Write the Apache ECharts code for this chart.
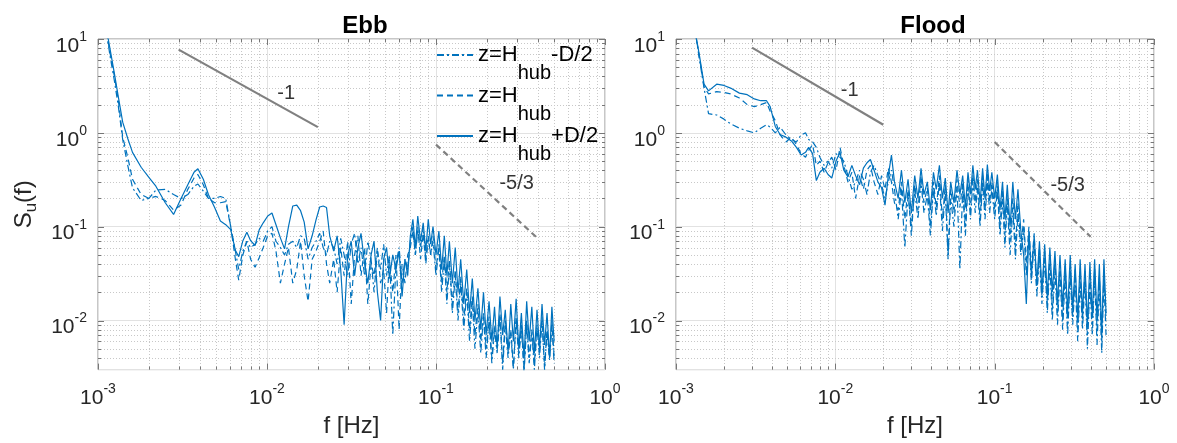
<!DOCTYPE html>
<html>
<head>
<meta charset="utf-8">
<title>Su(f) Ebb / Flood</title>
<script src="https://cdn.jsdelivr.net/npm/echarts@6/dist/echarts.min.js"></script>
<style>
html,body{margin:0;padding:0;background:#fff;}
#main{width:1177px;height:443px;}
</style>
</head>
<body>
<div id="main"></div>
<script>
// frequency [Hz], shared by both panels
var freq = [0.00112,0.00118,0.00125,0.00132,0.0014,0.0015,0.0016,0.0018,0.002,0.0022,
  0.0025,0.0028,0.0031,0.0034,0.0037,0.0039,0.0042,0.0045,0.0049,0.0053,
  0.0057,0.0061,0.0065,0.0068,0.0072,0.0076,0.008,0.0085,0.009,0.0095,
  0.0101,0.0107,0.0113,0.012,0.0127,0.0134,0.0142,0.015,0.0158,0.0166,
  0.0175,0.0185,0.0195,0.0205,0.0215,0.0225,0.0235,0.0248,0.026,0.0273,
  0.0286,0.03,0.0315,0.033,0.0345,0.036,0.0378,0.0395,0.0413,0.043,
  0.045,0.047,0.049,0.051,0.053,0.0555,0.058,0.0605,0.063,0.0655,
  0.068,0.0705,0.073,0.0755,0.078,0.081,0.084,0.087,0.09,0.093,
  0.096,0.1,0.104,0.108,0.112,0.116,0.12,0.125,0.13,0.135,
  0.14,0.146,0.152,0.158,0.164,0.17,0.177,0.184,0.191,0.198,
  0.206,0.214,0.222,0.23,0.239,0.248,0.257,0.267,0.277,0.287,
  0.298,0.309,0.32,0.332,0.344,0.356,0.369,0.382,0.396,0.41,
  0.424,0.439,0.454,0.47,0.485,0.5];

// Ebb: z=Hhub-D/2 (dash-dot), z=Hhub (dashed), z=Hhub+D/2 (solid)
var ebbLow = [12,6.5,3.6,1.9,0.85,0.45,0.26,0.19,0.2,0.245,
  0.25,0.22,0.2,0.22,0.27,0.285,0.24,0.2,0.2,0.21,
  0.2,0.1,0.055,0.035,0.055,0.07,0.06,0.065,0.075,0.07,
  0.09,0.1,0.07,0.06,0.05,0.065,0.07,0.06,0.08,0.075,
  0.045,0.06,0.07,0.085,0.06,0.05,0.07,0.06,0.04,0.075,
  0.05,0.03,0.065,0.085,0.04,0.06,0.03,0.07,0.045,0.02,
  0.055,0.035,0.065,0.03,0.05,0.007,0.04,0.06,0.025,0.045,
  0.035,0.07,0.1,0.05,0.09,0.06,0.1,0.045,0.08,0.05,
  0.07,0.03,0.06,0.02,0.045,0.015,0.04,0.012,0.03,0.01,
  0.025,0.008,0.02,0.006,0.016,0.005,0.013,0.0045,0.011,0.004,
  0.01,0.0035,0.008,0.0045,0.011,0.003,0.009,0.004,0.0075,0.003,
  0.01,0.004,0.0085,0.0028,0.009,0.0035,0.0075,0.003,0.0085,0.004,
  0.01,0.003,0.0075,0.0038,0.009,0.0035];
var ebbHub = [12,7,4,2.2,0.9,0.55,0.32,0.22,0.2,0.21,
  0.19,0.15,0.17,0.25,0.33,0.36,0.28,0.2,0.18,0.18,
  0.185,0.1,0.045,0.027,0.05,0.07,0.045,0.037,0.047,0.06,
  0.08,0.085,0.055,0.025,0.04,0.06,0.025,0.035,0.07,0.03,
  0.016,0.045,0.055,0.07,0.09,0.04,0.025,0.045,0.02,0.06,
  0.03,0.07,0.015,0.05,0.08,0.03,0.06,0.015,0.04,0.03,
  0.06,0.025,0.035,0.012,0.045,0.02,0.05,0.008,0.04,0.025,
  0.05,0.06,0.09,0.05,0.1,0.045,0.085,0.04,0.075,0.05,
  0.08,0.035,0.065,0.025,0.05,0.02,0.045,0.015,0.035,0.012,
  0.03,0.01,0.022,0.008,0.018,0.007,0.015,0.006,0.012,0.005,
  0.011,0.004,0.009,0.005,0.012,0.0035,0.01,0.005,0.008,0.0032,
  0.011,0.0045,0.009,0.003,0.01,0.004,0.008,0.0035,0.009,0.005,
  0.011,0.0032,0.008,0.0042,0.01,0.004];
var ebbHigh = [13,7.7,4.3,2.4,1.3,0.87,0.62,0.43,0.335,0.27,
  0.18,0.135,0.2,0.28,0.38,0.415,0.32,0.22,0.16,0.115,
  0.105,0.093,0.056,0.048,0.071,0.087,0.071,0.063,0.093,0.11,
  0.13,0.14,0.105,0.076,0.058,0.1,0.166,0.17,0.148,0.112,
  0.058,0.08,0.118,0.162,0.166,0.16,0.08,0.055,0.08,0.035,
  0.009,0.05,0.07,0.03,0.06,0.085,0.04,0.025,0.05,0.07,
  0.02,0.01,0.045,0.06,0.028,0.05,0.035,0.055,0.018,0.045,
  0.03,0.08,0.12,0.06,0.13,0.07,0.11,0.055,0.12,0.065,
  0.1,0.05,0.09,0.035,0.08,0.03,0.07,0.025,0.06,0.02,
  0.045,0.015,0.035,0.012,0.028,0.01,0.022,0.008,0.02,0.007,
  0.016,0.006,0.014,0.005,0.018,0.007,0.013,0.0045,0.015,0.006,
  0.017,0.005,0.012,0.004,0.016,0.006,0.014,0.0045,0.013,0.005,
  0.015,0.0055,0.012,0.004,0.014,0.006];

// Flood
var floodLow = [30,20,13,12,6.2,3.0,1.6,1.55,1.4,1.25,
  1.12,1.05,1.0,1.12,1.22,1.15,1.0,1.15,0.95,0.85,
  0.8,0.95,1.0,0.85,0.8,0.7,0.55,0.45,0.5,0.42,
  0.6,0.55,0.5,0.35,0.25,0.3,0.4,0.32,0.22,0.38,
  0.45,0.35,0.28,0.2,0.3,0.4,0.25,0.12,0.25,0.06,
  0.22,0.1,0.24,0.12,0.3,0.14,0.22,0.08,0.26,0.13,
  0.3,0.09,0.24,0.045,0.2,0.1,0.27,0.035,0.25,0.08,
  0.28,0.12,0.3,0.14,0.26,0.1,0.3,0.12,0.32,0.14,
  0.26,0.12,0.25,0.08,0.2,0.06,0.18,0.05,0.16,0.045,
  0.14,0.05,0.1,0.03,0.08,0.025,0.07,0.018,0.05,0.015,
  0.045,0.012,0.04,0.01,0.036,0.009,0.032,0.008,0.03,0.007,
  0.03,0.009,0.028,0.006,0.026,0.008,0.028,0.005,0.025,0.007,
  0.03,0.0055,0.024,0.0045,0.028,0.007];
var floodHub = [30,22,15,12,6.5,3.1,2.6,2.75,2.7,2.6,
  2.35,2.0,1.9,2.0,2.1,1.7,1.35,0.95,0.8,0.9,
  0.75,0.6,0.55,0.65,0.75,0.45,0.5,0.38,0.48,0.55,
  0.4,0.7,0.45,0.3,0.38,0.2,0.35,0.25,0.4,0.45,
  0.3,0.22,0.35,0.25,0.42,0.3,0.18,0.15,0.3,0.12,
  0.25,0.08,0.28,0.15,0.35,0.18,0.26,0.1,0.3,0.16,
  0.35,0.12,0.28,0.05,0.25,0.14,0.32,0.16,0.3,0.1,
  0.33,0.15,0.36,0.18,0.32,0.12,0.35,0.15,0.38,0.18,
  0.3,0.15,0.3,0.1,0.25,0.08,0.22,0.07,0.2,0.06,
  0.18,0.06,0.12,0.04,0.1,0.035,0.085,0.02,0.06,0.018,
  0.055,0.015,0.05,0.013,0.045,0.012,0.04,0.01,0.038,0.009,
  0.035,0.011,0.035,0.008,0.032,0.01,0.035,0.007,0.03,0.009,
  0.036,0.008,0.03,0.006,0.034,0.01];
var floodHigh = [30,22,15,12,6.8,3.3,2.8,3.3,3.2,3.0,
  2.65,2.55,2.3,2.2,2.2,1.9,1.17,0.96,0.9,0.82,
  0.7,0.58,0.62,0.7,0.6,0.31,0.38,0.42,0.36,0.33,
  0.5,0.62,0.4,0.34,0.45,0.35,0.28,0.42,0.48,0.52,
  0.4,0.3,0.26,0.17,0.35,0.58,0.3,0.2,0.4,0.18,
  0.32,0.14,0.35,0.2,0.42,0.22,0.3,0.15,0.38,0.25,
  0.45,0.2,0.33,0.14,0.3,0.18,0.4,0.22,0.35,0.16,
  0.38,0.22,0.45,0.25,0.4,0.18,0.42,0.2,0.46,0.24,
  0.38,0.2,0.36,0.15,0.3,0.12,0.28,0.1,0.3,0.12,
  0.25,0.09,0.05,0.015,0.09,0.03,0.08,0.025,0.07,0.02,
  0.065,0.018,0.06,0.02,0.055,0.015,0.05,0.014,0.045,0.012,
  0.05,0.013,0.04,0.01,0.045,0.012,0.04,0.009,0.042,0.011,
  0.045,0.01,0.04,0.007,0.045,0.012];

// slope guides
var slopeEbb1 = [[0.003, 7.7], [0.02, 1.15]];
var slopeEbb53 = [[0.1, 0.75], [0.4, 0.075]];
var slopeFlood1 = [[0.003, 8.1], [0.02, 1.22]];
var slopeFlood53 = [[0.1, 0.8], [0.4, 0.078]];
var slopeTextEbb = [[0.013, 2.6, '-1'], [0.3, 0.29, '-5/3']];
var slopeTextFlood = [[0.0123, 2.8, '-1'], [0.287, 0.275, '-5/3']];

// ticks
var xMajor = [0.001, 0.01, 0.1, 1];
var xMinor = [0.002,0.003,0.004,0.005,0.006,0.007,0.008,0.009,
  0.02,0.03,0.04,0.05,0.06,0.07,0.08,0.09,
  0.2,0.3,0.4,0.5,0.6,0.7,0.8,0.9];
var yMajor = [0.01, 0.1, 1, 10];
var yMinor = [0.004,0.005,0.006,0.007,0.008,0.009,
  0.02,0.03,0.04,0.05,0.06,0.07,0.08,0.09,
  0.2,0.3,0.4,0.5,0.6,0.7,0.8,0.9,
  2,3,4,5,6,7,8,9];

var legendNames = ['z=H_hub-D/2', 'z=H_hub', 'z=H_hub+D/2'];
var legendRich = {
  'z=H_hub-D/2': '{m|z=H}{s|hub}{m|-D/2}',
  'z=H_hub': '{m|z=H}{s|hub}',
  'z=H_hub+D/2': '{m|z=H}{s|hub}{m|+D/2}'
};

var FONT = '"Liberation Sans", Arial, Helvetica, sans-serif';
var BLUE = '#0072BD';
var AX = '#262626';

function pairs(vals) {
  var out = [];
  for (var i = 0; i < freq.length; i++) out.push([freq[i], vals[i]]);
  return out;
}

function tickLabel(value) {
  var e = Math.log10(value);
  var r = Math.round(e);
  if (Math.abs(e - r) > 1e-6) return '';
  return '{b|10}{p|' + r + '}';
}
var tickRich = {
  b: {fontSize: 21, lineHeight: 32, verticalAlign: 'middle', color: AX, fontFamily: FONT},
  p: {fontSize: 14, lineHeight: 14, verticalAlign: 'top', color: AX, fontFamily: FONT}
};

function gridMarks() {
  var items = [];
  xMinor.forEach(function (v) { items.push([v, 1, 0]); });
  xMajor.forEach(function (v) { items.push([v, 1, 2]); });
  yMinor.forEach(function (v) { items.push([0.01, v, 1]); });
  yMajor.forEach(function (v) { items.push([0.01, v, 3]); });
  return items;
}

// dotted minor grid + ticks on all four sides (matlab box on)
function renderGrid(params, api) {
  var cs = params.coordSys;
  var kind = api.value(2);
  var p = api.coord([api.value(0), api.value(1)]);
  var minor = kind < 2;
  var len = minor ? 3 : 6;
  var tick = {stroke: '#777', lineWidth: 1};
  var dot = {stroke: '#c8c8c8', lineWidth: 1, lineDash: [1, 2]};
  var ch = [];
  if (kind === 0 || kind === 2) {
    var x = Math.round(p[0]) + 0.5, y0 = cs.y, y1 = cs.y + cs.height;
    if (minor) ch.push({type: 'line', shape: {x1: x, y1: y0, x2: x, y2: y1}, style: dot});
    ch.push({type: 'line', shape: {x1: x, y1: y1, x2: x, y2: y1 - len}, style: tick});
    ch.push({type: 'line', shape: {x1: x, y1: y0, x2: x, y2: y0 + len}, style: tick});
  } else {
    var y = Math.round(p[1]) + 0.5, x0 = cs.x, x1 = cs.x + cs.width;
    if (minor) ch.push({type: 'line', shape: {x1: x0, y1: y, x2: x1, y2: y}, style: dot});
    ch.push({type: 'line', shape: {x1: x0, y1: y, x2: x0 + len, y2: y}, style: tick});
    ch.push({type: 'line', shape: {x1: x1, y1: y, x2: x1 - len, y2: y}, style: tick});
  }
  return {type: 'group', children: ch};
}

function makeX(idx) {
  return {
    type: 'log', logBase: 10, gridIndex: idx, min: 0.001, max: 1,
    name: 'f [Hz]', nameLocation: 'middle', nameGap: 43,
    nameTextStyle: {fontSize: 24, color: AX, fontFamily: FONT},
    axisLine: {show: false}, axisTick: {show: false},
    axisLabel: {formatter: tickLabel, rich: tickRich, margin: 13, showMinLabel: true, showMaxLabel: true},
    splitLine: {show: true, lineStyle: {color: '#e2e2e2', width: 1}}
  };
}

function makeY(idx, withName) {
  var ax = {
    type: 'log', logBase: 10, gridIndex: idx, min: 0.003, max: 10,
    axisLine: {show: false}, axisTick: {show: false},
    axisLabel: {formatter: tickLabel, rich: tickRich, margin: 11, padding: [14, 0, 0, 0], showMinLabel: true, showMaxLabel: true},
    splitLine: {show: true, lineStyle: {color: '#e2e2e2', width: 1}}
  };
  if (withName) {
    ax.name = '{m|S}{s|u}{m|(f)}';
    ax.nameLocation = 'middle';
    ax.nameRotate = 90;
    ax.nameGap = 58;
    ax.nameTextStyle = {rich: {
      m: {fontSize: 24, lineHeight: 32, color: AX, fontFamily: FONT},
      s: {fontSize: 17, lineHeight: 17, verticalAlign: 'bottom', color: AX, fontFamily: FONT}
    }};
  }
  return ax;
}

function lineSeries(name, vals, idx, dash) {
  return {
    type: 'line', name: name, xAxisIndex: idx, yAxisIndex: idx,
    data: pairs(vals), symbol: 'none', showSymbol: false, silent: true, z: 3,
    lineStyle: {color: BLUE, width: 1.2, type: dash}, itemStyle: {color: BLUE}
  };
}

function guide(data, idx, dash) {
  return {
    type: 'line', xAxisIndex: idx, yAxisIndex: idx, data: data, symbol: 'none', silent: true, z: 4,
    lineStyle: {color: '#808080', width: 2.2, type: dash}
  };
}

function guideText(list, idx) {
  return {
    type: 'scatter', xAxisIndex: idx, yAxisIndex: idx, symbolSize: 0, silent: true, z: 5,
    data: list.map(function (a) { return {value: [a[0], a[1]], name: a[2]}; }),
    label: {show: true, position: 'inside', formatter: '{b}', fontSize: 20, color: '#000', fontFamily: FONT}
  };
}

var DASHDOT = [7, 3, 2, 3];
var DASH = [6, 4];

var myChart = echarts.init(document.getElementById('main'));
var option = {
  animation: false,
  backgroundColor: '#fff',
  title: [
    {text: 'Ebb', left: 365, top: 14, padding: 0, textAlign: 'center',
      textStyle: {fontSize: 24, fontWeight: 'bold', color: '#000', fontFamily: FONT}},
    {text: 'Flood', left: 933, top: 14, padding: 0, textAlign: 'center',
      textStyle: {fontSize: 24, fontWeight: 'bold', color: '#000', fontFamily: FONT}}
  ],
  legend: {
    data: legendNames, orient: 'vertical', left: 436, top: 44, padding: 0,
    itemStyle: {opacity: 0},
    itemWidth: 36, itemHeight: 12, itemGap: 1, selectedMode: false,
    formatter: function (name) { return legendRich[name]; },
    textStyle: {rich: {
      m: {fontSize: 22, lineHeight: 57, color: '#000', fontFamily: FONT},
      s: {fontSize: 20, lineHeight: 20, verticalAlign: 'bottom', color: '#000', fontFamily: FONT}
    }}
  },
  grid: [
    {left: 98, right: 572, top: 39, bottom: 60, show: true, borderColor: '#8f8f8f', borderWidth: 1, backgroundColor: 'rgba(0,0,0,0)'},
    {left: 676, right: 23, top: 39, bottom: 60, show: true, borderColor: '#8f8f8f', borderWidth: 1, backgroundColor: 'rgba(0,0,0,0)'}
  ],
  xAxis: [makeX(0), makeX(1)],
  yAxis: [makeY(0, true), makeY(1, false)],
  series: [
    {type: 'custom', xAxisIndex: 0, yAxisIndex: 0, data: gridMarks(), renderItem: renderGrid, silent: true, z: 1, clip: false},
    {type: 'custom', xAxisIndex: 1, yAxisIndex: 1, data: gridMarks(), renderItem: renderGrid, silent: true, z: 1, clip: false},
    lineSeries(legendNames[0], ebbLow, 0, DASHDOT),
    lineSeries(legendNames[1], ebbHub, 0, DASH),
    lineSeries(legendNames[2], ebbHigh, 0, 'solid'),
    lineSeries('flood low', floodLow, 1, DASHDOT),
    lineSeries('flood hub', floodHub, 1, DASH),
    lineSeries('flood high', floodHigh, 1, 'solid'),
    guide(slopeEbb1, 0, 'solid'),
    guide(slopeEbb53, 0, DASH),
    guide(slopeFlood1, 1, 'solid'),
    guide(slopeFlood53, 1, DASH),
    guideText(slopeTextEbb, 0),
    guideText(slopeTextFlood, 1)
  ]
};
myChart.setOption(option);
</script>
</body>
</html>
